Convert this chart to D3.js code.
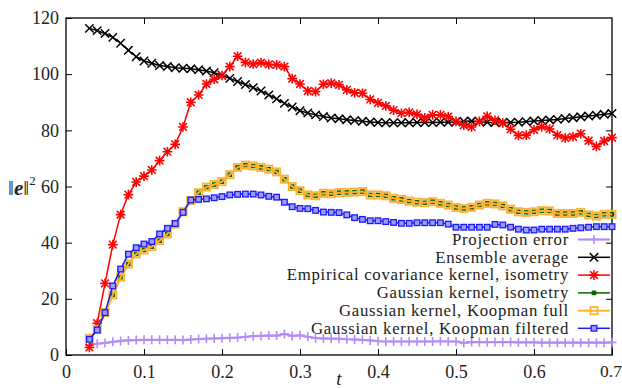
<!DOCTYPE html>
<html><head><meta charset="utf-8">
<script src="https://cdn.jsdelivr.net/npm/d3@7"></script>
<style>
html,body{margin:0;padding:0;background:#fff;}
</style></head>
<body><svg id="c" width="622" height="389"></svg>
<script>
const tValues = d3.range(3, 71).map(k => k / 100);
const xTickValues = [0, 0.1, 0.2, 0.3, 0.4, 0.5, 0.6, 0.7];
const xTickLabels = ["0", "0.1", "0.2", "0.3", "0.4", "0.5", "0.6", "0.7"];
const yTickValues = [0, 20, 40, 60, 80, 100, 120];
const yTickLabels = ["0", "20", "40", "60", "80", "100", "120"];
const seriesNames = ["Projection error", "Ensemble average", "Empirical covariance kernel, isometry",
  "Gaussian kernel, isometry", "Gaussian kernel, Koopman full", "Gaussian kernel, Koopman filtered"];

const projectionError = [3.5,4.0,4.3,4.7,5.0,5.2,5.3,5.4,5.4,5.4,5.4,5.4,5.3,5.5,5.7,5.8,5.9,6.0,6.1,6.2,6.5,6.7,6.8,6.9,6.9,7.5,6.8,7.0,6.5,6.0,5.9,5.8,5.8,5.6,5.5,5.4,5.2,4.9,4.8,4.8,4.8,4.8,4.8,4.8,4.8,4.9,4.8,4.8,4.3,4.6,4.6,4.6,4.6,4.6,4.6,4.5,4.5,4.5,4.4,4.4,4.4,4.4,4.4,4.4,4.4,4.4,4.4,4.5];
const ensembleAverage = [116.3,115.5,114.5,113.1,111.0,108.5,106.2,104.7,103.9,103.1,102.7,102.3,102.1,101.9,101.6,101.1,100.5,99.6,98.5,97.4,96.3,95.2,94.0,92.6,91.2,89.6,88.3,87.0,86.2,85.5,84.9,84.4,84.1,83.8,83.5,83.2,83.0,82.8,82.7,82.7,82.7,82.7,82.8,82.8,82.8,82.9,82.9,83.0,83.2,83.3,83.1,82.9,82.8,82.8,82.8,82.9,83.1,83.3,83.5,83.7,83.9,84.2,84.5,84.8,85.1,85.4,85.7,86.0];
const empiricalIsometry = [2.7,11.3,25.5,39.3,50.0,57.1,61.6,63.7,65.9,69.2,72.4,75.0,81.2,90.0,92.6,96.5,98.2,99.5,102.7,106.4,104.2,103.6,104.1,103.5,103.3,102.7,98.4,96.5,94.0,93.8,96.4,96.8,96.2,94.4,93.4,93.2,91.0,89.8,88.7,87.2,86.1,86.4,85.7,84.5,85.5,85.5,84.9,83.2,81.8,81.2,83.2,85.0,83.6,82.6,80.4,78.2,78.3,80.2,81.3,80.5,78.3,77.3,77.7,78.8,76.3,74.3,76.2,77.4];
const gaussianIsometry = [5.9,9.1,15.1,21.4,27.7,32.4,36.0,37.4,38.6,40.7,43.1,46.6,51.0,55.0,57.8,59.8,60.7,61.7,64.2,66.8,67.6,67.3,66.8,66.2,65.2,62.6,60.0,58.5,57.0,56.7,57.6,57.4,57.8,57.9,58.0,58.2,57.0,57.0,56.7,55.8,55.4,54.8,54.4,54.2,54.6,54.0,53.4,52.5,52.2,52.6,53.4,54.0,53.8,53.1,51.9,51.0,50.8,51.0,51.4,51.3,50.4,50.4,50.4,50.8,49.9,49.5,50.1,50.1];
const koopmanFull = [5.9,9.1,15.1,21.4,27.7,32.4,36.0,37.4,38.6,40.7,43.1,46.6,51.0,55.0,57.8,59.8,60.7,61.7,64.2,66.8,67.6,67.3,66.8,66.2,65.2,62.6,60.0,58.5,57.0,56.7,57.6,57.4,57.8,57.9,58.0,58.2,57.0,57.0,56.7,55.8,55.4,54.8,54.4,54.2,54.6,54.0,53.4,52.5,52.2,52.6,53.4,54.0,53.8,53.1,51.9,51.0,50.8,51.0,51.4,51.3,50.4,50.4,50.4,50.8,49.9,49.5,50.1,50.1];
const koopmanFiltered = [5.6,8.9,15.1,24.6,30.6,35.9,38.2,39.5,40.4,43.1,45.1,46.8,50.8,55.2,55.4,55.6,56.0,56.4,57.0,57.2,57.3,57.3,57.0,56.5,56.2,54.4,52.8,52.2,52.1,51.5,50.9,50.8,50.7,49.9,48.9,48.3,47.8,47.8,47.5,47.2,46.9,46.9,47.1,47.1,47.1,47.1,46.6,45.5,45.5,45.5,45.5,45.5,46.5,46.3,45.5,44.8,44.5,44.5,44.8,44.8,44.8,44.8,45.1,45.3,45.5,45.7,45.7,45.7];

const FONT = "'Liberation Serif', 'DejaVu Serif', serif";
const svg = d3.select("#c");
const L = 66, R = 612, T = 18, B = 355;
const x = d3.scaleLinear().domain([0, 0.7]).range([L, R]);
const y = d3.scaleLinear().domain([0, 120]).range([B, T]);

const tick = 6;
function styleAxis(g) {
  g.select(".domain").remove();
  g.attr("font-family", FONT);
  g.selectAll("text").attr("font-size", 18).attr("fill", "#222").attr("font-family", FONT);
  g.selectAll("line").attr("stroke", "#000");
}
svg.append("g").attr("transform", `translate(0,${B})`)
  .call(d3.axisBottom(x).tickValues(xTickValues).tickFormat((d, i) => xTickLabels[i]).tickSize(-tick).tickPadding(10))
  .call(styleAxis)
  .call(g => g.selectAll("text").filter(d => d === 0.7).attr("font-size", 17.5).attr("dx", -1.5));
svg.append("g").attr("transform", `translate(0,${T})`)
  .call(d3.axisTop(x).tickValues(xTickValues.slice(1, -1)).tickFormat("").tickSize(-tick))
  .call(styleAxis);
svg.append("g").attr("transform", `translate(${L},0)`)
  .call(d3.axisLeft(y).tickValues(yTickValues).tickFormat((d, i) => yTickLabels[i]).tickSize(-tick).tickPadding(7))
  .call(styleAxis);
svg.append("g").attr("transform", `translate(${R},0)`)
  .call(d3.axisRight(y).tickValues(yTickValues.slice(1, -1)).tickFormat("").tickSize(-tick))
  .call(styleAxis);

svg.append("rect").attr("x", L).attr("y", T).attr("width", R - L).attr("height", B - T)
  .attr("fill", "none").attr("stroke", "#000").attr("stroke-width", 1.3);

const yl = svg.append("text").attr("x", 8).attr("y", 195).attr("font-size", 21).attr("font-family", FONT).attr("fill", "#222");
yl.append("tspan").text("‖");
yl.append("tspan").text("e").attr("font-weight", "bold").attr("font-style", "italic");
yl.append("tspan").text("‖");
yl.append("tspan").text("2").attr("font-size", 13).attr("dy", -10);
svg.append("text").attr("x", x(0.35)).attr("y", 385).attr("text-anchor", "middle").attr("font-family", FONT)
  .attr("font-size", 19).attr("font-style", "italic").attr("fill", "#222").text("t");

function plus(g, s) { g.append("path").attr("d", `M${-s},0H${s}M0,${-s}V${s}`); }
function cross(g, s) { g.append("path").attr("d", `M${-s},${-s}L${s},${s}M${-s},${s}L${s},${-s}`); }
function star(g, s) { plus(g, s); cross(g, s * 0.8); }

const series = [
  { name: seriesNames[0], v: projectionError, color: "#b58cf7", lw: 2.2, mk: (g) => { g.attr("stroke", "#b58cf7").attr("stroke-width", 1.6); plus(g, 4.5); } },
  { name: seriesNames[1], v: ensembleAverage, color: "#000", lw: 1.5, mk: (g) => { g.attr("stroke", "#000").attr("stroke-width", 1.5); cross(g, 4.2); } },
  { name: seriesNames[2], v: empiricalIsometry, color: "#ff0000", lw: 1.5, mk: (g) => { g.attr("stroke", "#ff0000").attr("stroke-width", 1.6); star(g, 4.8); } },
  { name: seriesNames[3], v: gaussianIsometry, color: "#006400", lw: 1.5, mk: (g) => { g.append("rect").attr("x", -2.3).attr("y", -2.3).attr("width", 4.6).attr("height", 4.6).attr("fill", "#006400"); } },
  { name: seriesNames[4], v: koopmanFull, color: "#ffb02e", lw: 2, mk: (g) => { g.append("rect").attr("x", -3.6).attr("y", -3.6).attr("width", 7.2).attr("height", 7.2).attr("fill", "none").attr("stroke", "#ffb02e").attr("stroke-width", 1.8); } },
  { name: seriesNames[5], v: koopmanFiltered, color: "#1a1aff", lw: 1.5, mk: (g) => { g.append("rect").attr("x", -2.8).attr("y", -2.8).attr("width", 5.6).attr("height", 5.6).attr("fill", "#9d9dff").attr("stroke", "#1a1aff").attr("stroke-width", 1.3); } },
];

const line = d3.line().x((d, i) => x(tValues[i])).y(d => y(d));
series.forEach(s => {
  const g = svg.append("g");
  g.append("path").attr("d", line(s.v)).attr("fill", "none").attr("stroke", s.color).attr("stroke-width", s.lw).attr("stroke-linejoin", "round");
  s.v.forEach((v, i) => {
    const m = g.append("g").attr("transform", `translate(${x(tValues[i])},${y(v)})`).attr("fill", "none");
    s.mk(m);
  });
});

const rowY = [239.5, 257.3, 275.1, 292.9, 310.7, 328.3];
series.forEach((s, i) => {
  svg.append("text").attr("x", 569).attr("y", rowY[i] + 5.3).attr("text-anchor", "end").attr("font-family", FONT)
    .attr("font-size", 16.8).attr("letter-spacing", 0.7).attr("fill", "#222").text(s.name);
  svg.append("line").attr("x1", 578).attr("x2", 610).attr("y1", rowY[i]).attr("y2", rowY[i])
    .attr("stroke", s.color).attr("stroke-width", s.lw);
  const m = svg.append("g").attr("transform", `translate(594,${rowY[i]})`).attr("fill", "none");
  s.mk(m);
});
</script></body></html>
